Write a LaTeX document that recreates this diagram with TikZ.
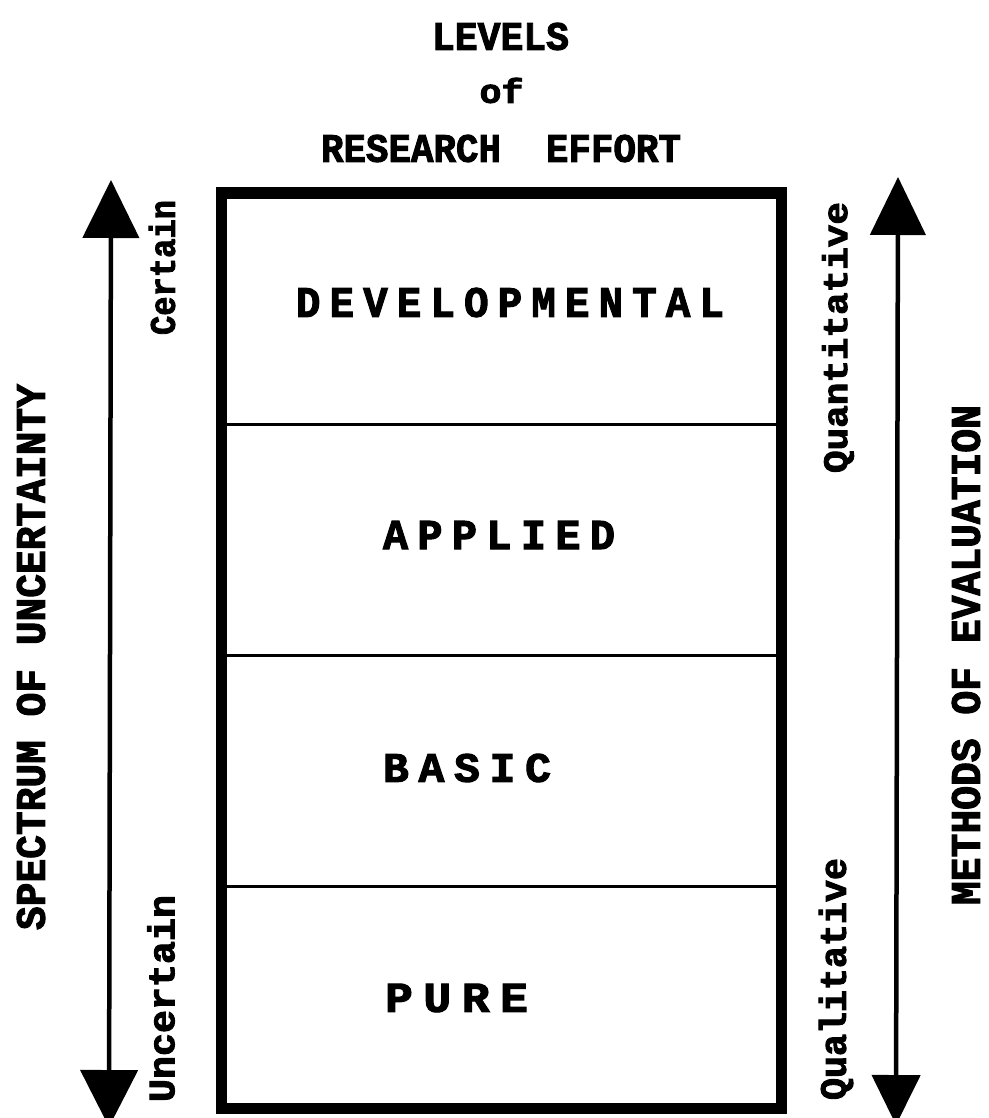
\documentclass[tikz,border=0pt]{standalone}
\usepackage{fontspec}
\usepackage{graphicx}
\setmonofont{Liberation Mono}[BoldFeatures={FakeBold=2.5}]
\usetikzlibrary{arrows.meta}
\newcommand\tw{\ttfamily\bfseries\fontsize{40}{40}\selectfont}
\newcommand\gp{\kern9pt}
\newcommand\rtxt[3]{\resizebox{#1pt}{#2pt}{\tw #3}}
\begin{document}
\begin{tikzpicture}[x=1pt,y=-1pt,
  txt/.style={inner sep=0pt,outer sep=0pt},
  frame/.style={draw,line width=11pt,inner sep=0pt,outer sep=0pt},
  divider/.style={line width=3pt},
  axis/.style={line width=4.5pt}]
\useasboundingbox[fill=white] (0,0) rectangle (988,1118);
% title
\node[txt] (levels) at (500.5,36.5) {\rtxt{137}{27}{LEVELS}};
\node[txt] (of) at (501.5,90.5) {\rtxt{44}{25}{of}};
\node[txt] (research) at (501,148.5) {\rtxt{360}{27}{RESEARCH\ \ EFFORT}};
% box
\node[frame,minimum width=560pt,minimum height=915pt] (box) at (501,650.5) {};
\coordinate (d1l) at (221,424); \coordinate (d1r) at (781,424);
\coordinate (d2l) at (221,655); \coordinate (d2r) at (781,655);
\coordinate (d3l) at (221,886); \coordinate (d3r) at (781,886);
\draw[divider] (d1l) -- (d1r);
\draw[divider] (d2l) -- (d2r);
\draw[divider] (d3l) -- (d3r);
% levels
\node[txt] (dev) at (510,302.5) {\rtxt{428}{29}{D\gp E\gp V\gp E\gp L\gp O\gp P\gp M\gp E\gp N\gp T\gp A\gp L}};
\node[txt,anchor=west] (app) at (383,535) {\rtxt{232}{28}{A\gp P\gp P\gp L\gp I\gp E\gp D}};
\node[txt,anchor=west] (bas) at (383,768) {\rtxt{168}{28}{B\gp A\gp S\gp I\gp C}};
\node[txt,anchor=west] (pur) at (385,998) {\rtxt{143}{28}{P\gp U\gp R\gp E}};
% side labels
\node[txt,rotate=90] (spec) at (31,657) {\rtxt{546}{28}{SPECTRUM OF UNCERTAINTY}};
\node[txt,rotate=90] (cert) at (162,267.5) {\rtxt{135}{26}{Certain}};
\node[txt,rotate=90] (unc) at (161,998.5) {\rtxt{207}{27}{Uncertain}};
\node[txt,rotate=90] (quan) at (838,337.5) {\rtxt{271}{25}{Quantitative}};
\node[txt,rotate=90] (qual) at (836,979) {\rtxt{242}{27}{Qualitative}};
\node[txt,rotate=90] (meth) at (966,655) {\rtxt{500}{28}{METHODS OF EVALUATION}};
% arrows
\coordinate (lt) at (111,180); \coordinate (lb) at (109,1127);
\coordinate (rt) at (898,177); \coordinate (rb) at (896,1125);
\draw[axis,{Triangle[width=57pt,length=57pt]}-{Triangle[width=56pt,length=58pt]}] (lb) -- (lt);
\draw[axis,{Triangle[width=48pt,length=50pt]}-{Triangle[width=55pt,length=58pt]}] (rb) -- (rt);
\end{tikzpicture}
\end{document}
